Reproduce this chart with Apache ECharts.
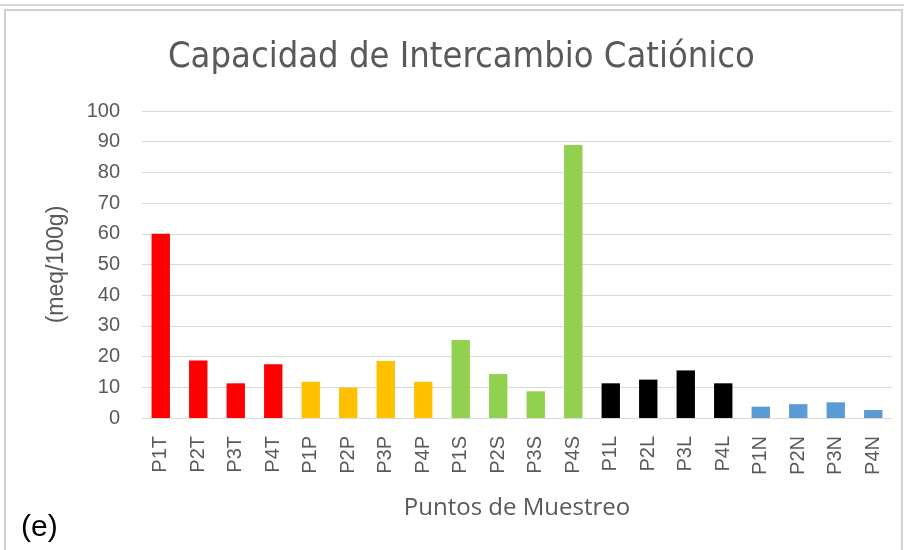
<!DOCTYPE html>
<html><head><meta charset="utf-8">
<script src="https://cdn.jsdelivr.net/npm/echarts@6/dist/echarts.min.js"></script>
<style>html,body{margin:0;padding:0;background:#fff}#c{width:904px;height:550px}</style>
</head><body><div id="c"></div>
<script>
const categories = ['P1T','P2T','P3T','P4T','P1P','P2P','P3P','P4P','P1S','P2S','P3S','P4S','P1L','P2L','P3L','P4L','P1N','P2N','P3N','P4N'];
const values = [60, 18.7, 11.3, 17.5, 11.8, 9.9, 18.6, 11.8, 25.4, 14.3, 8.7, 88.9, 11.3, 12.5, 15.5, 11.3, 3.7, 4.5, 5.1, 2.6];
const yTicks = [0,10,20,30,40,50,60,70,80,90,100];
const barColors = ['#FF0000','#FF0000','#FF0000','#FF0000','#FFC000','#FFC000','#FFC000','#FFC000','#92D050','#92D050','#92D050','#92D050','#000000','#000000','#000000','#000000','#5B9BD5','#5B9BD5','#5B9BD5','#5B9BD5'];

const chart = echarts.init(document.getElementById('c'), null, {renderer:'canvas'});
chart.setOption({
  backgroundColor:'#fff',
  animation:false,
  title:{text:'Capacidad de Intercambio Catiónico', left:163, top:35,
    textStyle:{fontFamily:'DejaVu Sans Condensed', fontWeight:'normal', fontSize:36, color:'#595959'}},
  grid:{left:142, right:12, top:111, bottom:132, containLabel:false},
  xAxis:{type:'category', data:categories,
    axisLine:{lineStyle:{color:'#d9d9d9'}}, axisTick:{show:false},
    axisLabel:{rotate:90, color:'#595959', fontSize:20, fontFamily:'Liberation Sans', margin:18, interval:0},
    name:'Puntos de Muestreo', nameLocation:'middle', nameGap:78,
    nameTextStyle:{color:'#595959', fontSize:24, fontFamily:'Open Sans'}},
  yAxis:{type:'value', min:yTicks[0], max:yTicks[yTicks.length-1], interval:10,
    axisLine:{show:false}, axisTick:{show:false},
    splitLine:{lineStyle:{color:'#d9d9d9', width:1}},
    axisLabel:{color:'#595959', fontSize:20, fontFamily:'Liberation Sans', margin:22},
    name:'(meq/100g)', nameLocation:'middle', nameGap:74, nameRotate:90,
    nameTextStyle:{color:'#595959', fontSize:23, fontFamily:'Liberation Sans'}},
  series:[{type:'bar', barWidth:'49%',
    data: values.map((v,i)=>({value:v, itemStyle:{color:barColors[i]}}))}],
  graphic:[
    {type:'rect', shape:{x:5,y:10,width:897,height:545}, style:{fill:'none', stroke:'#d0d0d0', lineWidth:2}, z:-1},
    {type:'line', shape:{x1:0,y1:5,x2:904,y2:5}, style:{stroke:'#d8d8d8', lineWidth:2}},
    {type:'text', left:21, top:513, style:{text:'(e)', fontSize:30, fontFamily:'Liberation Sans', fill:'#000'}}
  ]
});
</script></body></html>
